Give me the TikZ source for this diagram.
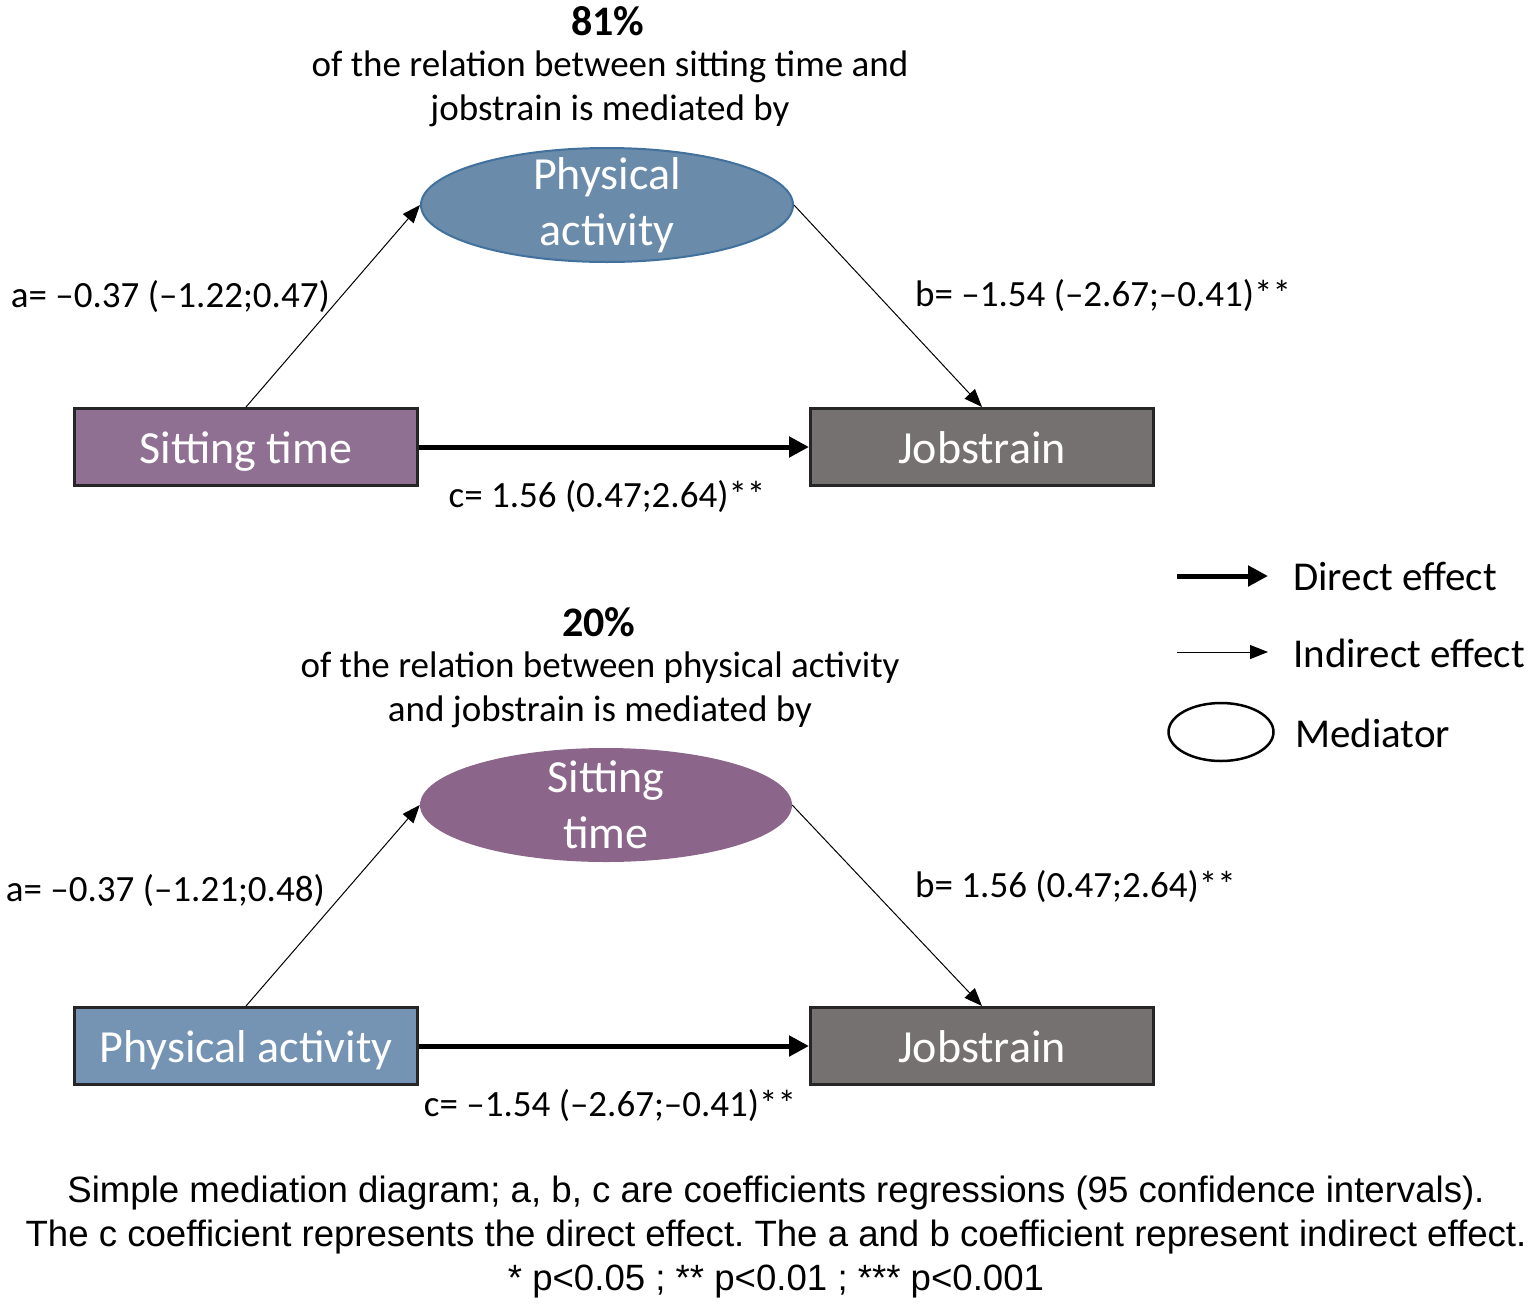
\documentclass[tikz,border=0pt]{standalone}
\usepackage{fontspec}
\setmainfont{Carlito}
\newfontfamily\capfont{Liberation Sans}
\usepackage{xcolor}
\usepackage{tikz}
\usetikzlibrary{arrows.meta,positioning,shapes.geometric}
\frenchspacing

\definecolor{sitcol}{RGB}{143,112,147}
\definecolor{sitmed}{RGB}{139,102,138}
\definecolor{pacol}{RGB}{117,148,180}
\definecolor{pamed}{RGB}{106,139,170}
\definecolor{paedge}{RGB}{65,113,156}
\definecolor{jobcol}{RGB}{118,113,113}
\definecolor{boxedge}{RGB}{38,38,38}

\tikzset{
 var/.style={rectangle,draw=boxedge,line width=3pt,minimum width=343pt,minimum height=77pt,
   text=white,font=\fontsize{46}{56}\selectfont,text height=40pt,text depth=8pt},
 med/.style={ellipse,minimum width=372pt,minimum height=114pt,inner sep=0pt},
 medtxt/.style={text=white,align=center,font=\fontsize{46}{56}\selectfont},
 coef/.style={font=\fontsize{37}{44}\selectfont,inner sep=0pt},
 head/.style={font=\fontsize{37}{44.5}\selectfont,align=center,inner sep=0pt},
 leg/.style={font=\fontsize{41}{48}\selectfont,inner sep=0pt,anchor=west},
 direct/.style={line width=5pt,-{Triangle[length=20pt,width=20pt]}},
 indirect/.style={line width=1pt,-{Triangle[length=18pt,width=14pt]}}
}

\begin{document}
\begin{tikzpicture}[x=1pt,y=-1pt]
 \useasboundingbox (0,0) rectangle (1535,1307);

 % top model: physical activity as mediator
 \node[head,font=\fontsize{42}{48}\selectfont\bfseries] (pct1) at (608,21) {81\%};
 \node[head] (txt1) at (610,89) {of the relation between sitting time and\\jobstrain is mediated by};
 \node[med,fill=pamed,draw=paedge,line width=2pt,
   label={[medtxt]center:Physical\\activity}] (pa1) at (607,205) {};
 \node[var,fill=sitcol] (sit1) at (246,447) {Sitting time};
 \node[var,fill=jobcol] (job1) at (982,447) {Jobstrain};

 \draw[indirect] (sit1.north) -- (pa1.west);
 \draw[indirect] (pa1.east) -- (job1.north);
 \draw[direct] (sit1.east) -- (job1.west);

 \node[coef,anchor=east] (a1) at (330,297) {a= –0.37 (–1.22;0.47)};
 \node[coef,anchor=west] (b1) at (915,296) {b= –1.54 (–2.67;–0.41)**};
 \node[coef] (c1) at (607,497) {c= 1.56 (0.47;2.64)**};

 % legend
 \coordinate (d0) at (1177,576);
 \coordinate (d1) at (1268,576);
 \draw[direct] (d0) -- (d1);
 \node[leg] (dl) at (1293,576) {Direct effect};
 \coordinate (i0) at (1177,652);
 \coordinate (i1) at (1268,652);
 \draw[indirect] (i0) -- (i1);
 \node[leg] (il) at (1293,653) {Indirect effect};
 \node[ellipse,draw,line width=2.5pt,minimum width=105pt,minimum height=58pt] (ml0) at (1221,732) {};
 \node[leg] (ml) at (1295,733) {Mediator};

 % bottom model: sitting time as mediator
 \node[head,font=\fontsize{42}{48}\selectfont\bfseries] (pct2) at (599,622) {20\%};
 \node[head] (txt2) at (600,690) {of the relation between physical activity\\and jobstrain is mediated by};
 \node[med,fill=sitmed,
   label={[medtxt]center:Sitting\\time}] (sit2) at (606,805) {};
 \node[var,fill=pacol] (pa2) at (246,1046) {Physical activity};
 \node[var,fill=jobcol] (job2) at (982,1046) {Jobstrain};

 \draw[indirect] (pa2.north) -- (sit2.west);
 \draw[indirect] (sit2.east) -- (job2.north);
 \draw[direct] (pa2.east) -- (job2.west);

 \node[coef,anchor=east] (a2) at (325,891) {a= –0.37 (–1.21;0.48)};
 \node[coef,anchor=west] (b2) at (915,887) {b= 1.56 (0.47;2.64)**};
 \node[coef] (c2) at (610,1106) {c= –1.54 (–2.67;–0.41)**};

 % caption
 \node[font=\capfont\fontsize{36.6}{44}\selectfont,align=center,inner sep=0pt] (cap) at (776,1237)
   {Simple mediation diagram; a, b, c are coefficients regressions (95 confidence intervals).\\
    The c coefficient represents the direct effect. The a and b coefficient represent indirect effect.\\
    * p<0.05 ; ** p<0.01 ; *** p<0.001};
\end{tikzpicture}
\end{document}
